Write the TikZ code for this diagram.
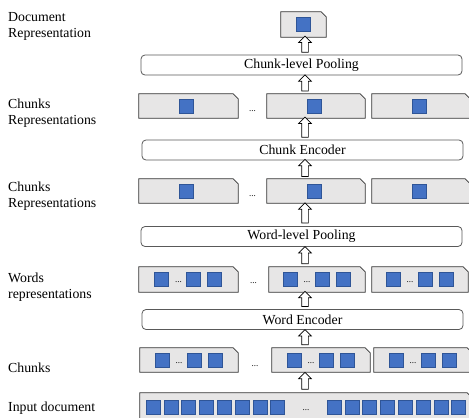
\documentclass[tikz,border=0pt]{standalone}
\usepackage{fontspec}
\setmainfont{Liberation Serif}
\usepackage{tikz}
\usetikzlibrary{calc, positioning, shapes.arrows}
\definecolor{vecblue}{HTML}{4472C4}
\definecolor{vecedge}{HTML}{2F5597}
\definecolor{boxgray}{HTML}{E7E6E6}
\tikzstyle{layer}=[rectangle, rounded corners=4pt, draw=black!65, fill=white, line width=0.8pt, minimum width=321pt, minimum height=20pt, inner sep=0pt, font=\fontsize{13.8}{16}\selectfont]
\tikzstyle{chunk}=[rectangle, minimum width=98pt, minimum height=24pt, inner sep=0pt,
  append after command={\pgfextra{\fill[boxgray, draw=black!80, line width=0.8pt]
    (\tikzlastnode.south west) -- (\tikzlastnode.north west) -- ([xshift=-5pt]\tikzlastnode.north east)
    -- ([yshift=-5pt]\tikzlastnode.north east) -- (\tikzlastnode.south east) -- cycle;}}]
\tikzstyle{vec}=[rectangle, draw=vecedge, fill=vecblue, line width=0.5pt, minimum size=14pt, inner sep=0pt]
\tikzstyle{gap}=[inner sep=0pt, anchor=base, font=\fontsize{9}{9}\selectfont]
\tikzstyle{hollow}=[single arrow, draw=black, fill=white, line width=0.7pt, shape border rotate=90, single arrow head extend=3pt, inner sep=3pt]
\tikzstyle{caption}=[anchor=west, align=left, inner sep=0pt, font=\fontsize{13.8}{16}\selectfont]
% three word vectors with a gap, centred in a chunk box
\newcommand{\wordvecs}[2]{%
  \node[vec] (#2a) at ([xshift=-27pt]#1.center) {};
  \node[gap] (#2d) at ([xshift=-10pt, yshift=-3pt]#1.center) {...};
  \node[vec] (#2b) at ([xshift=5pt]#1.center) {};
  \node[vec] (#2c) at ([xshift=26pt]#1.center) {};}

\begin{document}
\begin{tikzpicture}[x=1pt, y=-1pt]
    \useasboundingbox (0,0) rectangle (469,418);
    \coordinate (axis) at (305,0);

    % Captions.
    \node[caption] (capdoc) at (8,26.5) {Document\\Representation};
    \node[caption] (capcra) at (8,113) {Chunks\\Representations};
    \node[caption] (capcrb) at (8,196) {Chunks\\Representations};
    \node[caption] (capwr) at (8,287) {Words\\representations};
    \node[caption] (capch) at (8,368) {Chunks};
    \node[caption] (capin) at (8,408.5) {Input document};

    % Document representation.
    \node[chunk, minimum width=45pt, minimum height=25pt] (doc) at (303.5,24.5) {};
    \node[vec] (docv) at (doc.center) {};

    % Chunk-level pooling.
    \node[layer] (cpool) at (301.5,65) {Chunk-level Pooling};

    % Chunks representations, after the encoder.
    \node[chunk, minimum width=99pt] (ra1) at (188.5,106) {};
    \node[chunk] (ra2) at (316,106) {};
    \node[chunk] (ra3) at (421,106) {};
    \node[vec] (ra1v) at ([xshift=-2pt]ra1.center) {};
    \node[vec] (ra2v) at ([xshift=-2pt]ra2.center) {};
    \node[vec] (ra3v) at ([xshift=-2pt]ra3.center) {};
    \node[gap] (radots) at ([yshift=-5pt]$(ra1.east)!0.5!(ra2.west)$) {...};

    % Chunk encoder.
    \node[layer] (cenc) at (302.5,150) {Chunk Encoder};

    % Chunks representations, after word pooling.
    \node[chunk, minimum width=99pt] (rb1) at (188.5,191) {};
    \node[chunk] (rb2) at (316,191) {};
    \node[chunk] (rb3) at (421,191) {};
    \node[vec] (rb1v) at ([xshift=-2pt]rb1.center) {};
    \node[vec] (rb2v) at ([xshift=-2pt]rb2.center) {};
    \node[vec] (rb3v) at ([xshift=-2pt]rb3.center) {};
    \node[gap] (rbdots) at ([yshift=-5pt]$(rb1.east)!0.5!(rb2.west)$) {...};

    % Word-level pooling.
    \node[layer] (wpool) at (301.5,236.5) {Word-level Pooling};

    % Words representations.
    \node[chunk, minimum width=99pt, minimum height=25pt] (w1) at (188.5,279.5) {};
    \node[chunk, minimum width=96pt, minimum height=25pt] (w2) at (317,279.5) {};
    \node[chunk, minimum width=96pt, minimum height=25pt] (w3) at (420,279.5) {};
    \wordvecs{w1}{w1v}
    \wordvecs{w2}{w2v}
    \wordvecs{w3}{w3v}
    \node[gap] (wdots) at ([yshift=-4pt]$(w1.east)!0.5!(w2.west)$) {...};

    % Word encoder.
    \node[layer] (wenc) at (302.5,319.5) {Word Encoder};

    % Chunks.
    \node[chunk] (c1) at (189,360) {};
    \node[chunk] (c2) at (321,360) {};
    \node[chunk] (c3) at (423,360) {};
    \wordvecs{c1}{c1v}
    \wordvecs{c2}{c2v}
    \wordvecs{c3}{c3v}
    \node[gap] (cdots) at ([yshift=-6pt]$(c1.east)!0.5!(c2.west)$) {...};

    % Input document.
    \node[chunk, minimum width=332pt, minimum height=30pt] (input) at (306,408) {};
    \foreach \k in {0,...,7} {
      \node[vec] (inl\k) at (153+17.8*\k,407.5) {};
      \node[vec] (inr\k) at (334+17.8*\k,407.5) {};
    }
    \node[gap] (indots) at (306,410) {...};

    % Flow.
    \path (input.north -| axis) -- (c2.south -| axis) node[midway, hollow, minimum height=17pt] {};
    \path (c2.north -| axis) -- (wenc.south -| axis) node[midway, hollow, minimum height=15pt] {};
    \path (wenc.north -| axis) -- (w2.south -| axis) node[midway, hollow, minimum height=15pt] {};
    \path (w2.north -| axis) -- (wpool.south -| axis) node[midway, hollow, minimum height=17pt] {};
    \path (wpool.north -| axis) -- (rb2.south -| axis) node[midway, hollow, minimum height=20pt] {};
    \path (rb2.north -| axis) -- (cenc.south -| axis) node[midway, hollow, minimum height=17pt] {};
    \path (cenc.north -| axis) -- (ra2.south -| axis) node[midway, hollow, minimum height=20pt] {};
    \path (ra2.north -| axis) -- (cpool.south -| axis) node[midway, hollow, minimum height=16pt] {};
    \path (cpool.north -| axis) -- (doc.south -| axis) node[midway, hollow, minimum height=16pt] {};
\end{tikzpicture}
\end{document}
